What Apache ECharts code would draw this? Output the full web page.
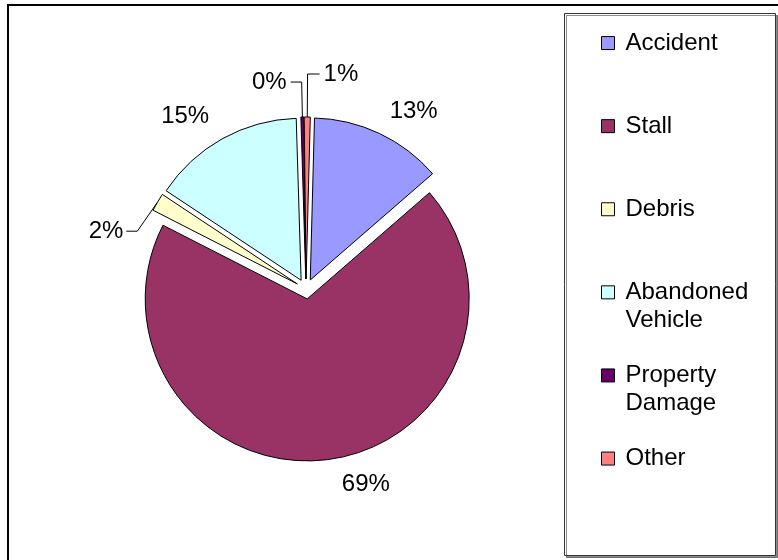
<!DOCTYPE html>
<html>
<head>
<meta charset="utf-8">
<script src="https://cdn.jsdelivr.net/npm/echarts@6/dist/echarts.min.js"></script>
<style>
html,body{margin:0;padding:0;background:#fff;}
#chart{width:778px;height:560px;}
</style>
</head>
<body>
<div id="chart"></div>
<script>
// incident types and their share (%)
var categories = ['Accident', 'Stall', 'Debris', 'Abandoned Vehicle', 'Property Damage', 'Other'];
var shares = [13.2, 68.9, 1.8, 15.2, 0.3, 0.6];
var legendText = ['Accident', 'Stall', 'Debris', 'Abandoned\nVehicle', 'Property\nDamage', 'Other'];
var sliceColors = ['#9999FF', '#993366', '#FFFFCC', '#CCFFFF', '#660066', '#FF8080'];

// label line per slice: [show, length, length2, gap]
var lineCfg = [
  [false, 24, 0, 0],
  [false, 25, 7, 5],
  [true, 6, 25, 4],
  [false, 25, 1, 0],
  [true, 35, 11, 4],
  [true, 43, 12, 4]
];

var font = 'Liberation Sans, Arial, sans-serif';

var pieData = categories.map(function (name, i) {
  var c = lineCfg[i];
  return {
    name: name,
    value: shares[i],
    selected: true,
    itemStyle: { color: sliceColors[i] },
    label: { distanceToLabelLine: c[3] },
    labelLine: { show: c[0], length: c[1], length2: c[2] }
  };
});

var legendData = categories.map(function (name) {
  return { name: name };
});

var myChart = echarts.init(document.getElementById('chart'));
var option = {
  animation: false,
  backgroundColor: '#fff',
  graphic: [
    {
      type: 'rect', z: -10,
      shape: { x: 8, y: 5, width: 800, height: 600 },
      style: { fill: 'none', stroke: '#000', lineWidth: 2 }
    },
    {
      type: 'rect', z: -10,
      shape: { x: 564.5, y: 13.5, width: 211, height: 542 },
      style: {
        fill: '#fff', stroke: '#333', lineWidth: 1,
        shadowColor: 'rgba(0,0,0,0.45)', shadowOffsetX: 2, shadowOffsetY: 2, shadowBlur: 0
      }
    }
  ],
  legend: {
    orient: 'vertical',
    left: 601,
    top: 1.5,
    padding: 0,
    itemGap: 0,
    itemWidth: 13,
    itemHeight: 13,
    icon: 'rect',
    selectedMode: false,
    data: legendData,
    // first line sits level with the icon, second line hangs below
    formatter: function (name) {
      var t = legendText[categories.indexOf(name)];
      return ' \n' + (t.indexOf('\n') < 0 ? t + '\n ' : t);
    },
    itemStyle: { borderColor: '#000', borderWidth: 1 },
    textStyle: {
      color: '#000',
      fontFamily: font,
      fontSize: 24,
      lineHeight: 27.7,
      padding: [0, 0, 0, 6],
      backgroundColor: 'rgba(255,255,255,0)'
    }
  },
  series: [{
    type: 'pie',
    center: [306, 289],
    radius: 162,
    startAngle: 88.5,
    clockwise: true,
    selectedMode: 'multiple',
    selectedOffset: 10,
    avoidLabelOverlap: false,
    emphasis: { disabled: true },
    itemStyle: { borderColor: '#000', borderWidth: 1 },
    label: {
      show: true,
      position: 'outside',
      color: '#000',
      fontFamily: font,
      fontSize: 24,
      formatter: function (p) { return Math.round(p.percent) + '%'; }
    },
    labelLine: {
      lineStyle: { color: '#000', width: 1 }
    },
    // the Debris label sits lower, its leader bends down to it
    labelLayout: function (p) {
      if (p.dataIndex !== 2 || !p.labelLinePoints) return;
      var r = p.labelRect;
      var ty = r.y + r.height / 2 + 32;
      var xe = r.x + r.width + 3;
      var start = p.labelLinePoints[0];
      return {
        dy: 32,
        labelLinePoints: [start, [xe + 11, ty], [xe, ty]]
      };
    },
    data: pieData
  }]
};
myChart.setOption(option);
</script>
</body>
</html>
